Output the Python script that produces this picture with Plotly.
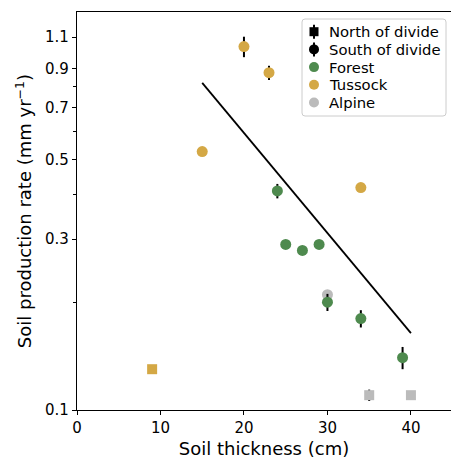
import plotly.graph_objects as go

# Soil production rate vs soil thickness, split by vegetation and side of divide
# South of divide (circles)
tussock_s_x = [15, 20, 23, 34]
tussock_s_y = [0.527, 1.035, 0.875, 0.418]
tussock_s_err = [0, 0.068, 0.04, 0]

forest_s_x = [24, 25, 27, 29, 30, 34, 39]
forest_s_y = [0.409, 0.290, 0.279, 0.290, 0.200, 0.180, 0.140]
forest_s_err = [0.019, 0, 0, 0, 0.011, 0.01, 0.01]

alpine_s_x = [30]
alpine_s_y = [0.210]
alpine_s_err = [0]

# North of divide (squares)
tussock_n_x = [9]
tussock_n_y = [0.130]
tussock_n_err = [0]

alpine_n_x = [35, 40]
alpine_n_y = [0.110, 0.110]
alpine_n_err = [0.004, 0]

# Exponential fit drawn as a straight line on the log axis
fit_x = [15, 40]
fit_y = [0.82, 0.164]

y_ticks = [0.1, 0.3, 0.5, 0.7, 0.9, 1.1]
y_minor = [0.2, 0.4, 0.6, 0.8]
x_ticks = [0, 10, 20, 30, 40]

legend_names = ["North of divide", "South of divide", "Forest", "Tussock", "Alpine"]

FOREST = "#4e8a4e"
TUSSOCK = "#d4a845"
ALPINE = "#bbbbbb"
FONT = "DejaVu Sans"

W, H = 451, 460
ML, MR, MT, MB = 77, 0, 12, 50
PW, PH = W - ML - MR, H - MT - MB

fig = go.Figure()

fig.add_trace(go.Scatter(x=fit_x, y=fit_y, mode="lines",
                         line=dict(color="black", width=1.8), showlegend=False))


def pts(x, y, err, color, symbol, size):
    fig.add_trace(go.Scatter(
        x=x, y=y, mode="markers", showlegend=False,
        marker=dict(color=color, symbol=symbol, size=size, line=dict(width=0)),
        error_y=dict(type="data", array=err, color="black", thickness=2, width=0),
    ))


pts(alpine_n_x, alpine_n_y, alpine_n_err, ALPINE, "square", 10)
pts(tussock_n_x, tussock_n_y, tussock_n_err, TUSSOCK, "square", 10)
pts(alpine_s_x, alpine_s_y, alpine_s_err, ALPINE, "circle", 11)
pts(tussock_s_x, tussock_s_y, tussock_s_err, TUSSOCK, "circle", 11)
pts(forest_s_x, forest_s_y, forest_s_err, FOREST, "circle", 11)


# Legend box built from shapes and annotations (pixel layout -> paper coords)
def px(x):
    return (x - ML) / PW


def py(y):
    return (H - MB - y) / PH


shapes = []
annotations = []

bx0, bx1, by0, by1, r = 302, 446, 19, 116, 3
path = (f"M {px(bx0 + r)},{py(by0)} L {px(bx1 - r)},{py(by0)} "
        f"Q {px(bx1)},{py(by0)} {px(bx1)},{py(by0 + r)} "
        f"L {px(bx1)},{py(by1 - r)} Q {px(bx1)},{py(by1)} {px(bx1 - r)},{py(by1)} "
        f"L {px(bx0 + r)},{py(by1)} Q {px(bx0)},{py(by1)} {px(bx0)},{py(by1 - r)} "
        f"L {px(bx0)},{py(by0 + r)} Q {px(bx0)},{py(by0)} {px(bx0 + r)},{py(by0)} Z")
shapes.append(dict(type="path", xref="paper", yref="paper", path=path,
                   fillcolor="rgba(255,255,255,0.8)", line=dict(color="#cccccc", width=1)))

legend_styles = [("black", "square", True), ("black", "circle", True),
                 (FOREST, "circle", False), (TUSSOCK, "circle", False),
                 (ALPINE, "circle", False)]
row_y0, row_dy = 31.7, 17.7
mx, tx = 314, 327
for i, (name, (color, sym, errbar)) in enumerate(zip(legend_names, legend_styles)):
    cy = row_y0 + i * row_dy
    if errbar:
        shapes.append(dict(type="line", xref="paper", yref="paper",
                           x0=px(mx), x1=px(mx), y0=py(cy - 7), y1=py(cy + 7),
                           line=dict(color="black", width=2)))
    s = 4.5 if sym == "square" else 5
    shapes.append(dict(type="rect" if sym == "square" else "circle",
                       xref="paper", yref="paper",
                       x0=px(mx - s), x1=px(mx + s), y0=py(cy + s), y1=py(cy - s),
                       fillcolor=color, line=dict(width=0)))
    annotations.append(dict(text=name, xref="paper", yref="paper", x=px(tx), y=py(cy),
                            xanchor="left", yanchor="middle", showarrow=False,
                            font=dict(family=FONT, size=14.8, color="black")))

fig.update_layout(
    width=W, height=H,
    margin=dict(l=ML, r=MR, t=MT, b=MB),
    paper_bgcolor="white", plot_bgcolor="white",
    font=dict(family=FONT, size=15, color="black"),
    showlegend=False,
    shapes=shapes, annotations=annotations,
    xaxis=dict(range=[0, 44.8], tickvals=x_ticks, showgrid=False, zeroline=False,
               showline=True, linecolor="black", linewidth=1.2, mirror=True,
               ticks="outside", ticklen=4, tickcolor="black",
               title=dict(text="Soil thickness (cm)", standoff=6)),
    yaxis=dict(type="log", range=[-1, 0.1116], tickvals=y_ticks,
               ticktext=[str(v) for v in y_ticks], showgrid=False, zeroline=False,
               showline=True, linecolor="black", linewidth=1.2,
               ticks="outside", ticklen=4, tickcolor="black",
               minor=dict(tickvals=y_minor, ticks="outside", ticklen=3, tickcolor="black"),
               title=dict(text="Soil production rate (mm yr<sup>\u22121</sup>)", standoff=8)),
)

fig.write_html("out.html")
